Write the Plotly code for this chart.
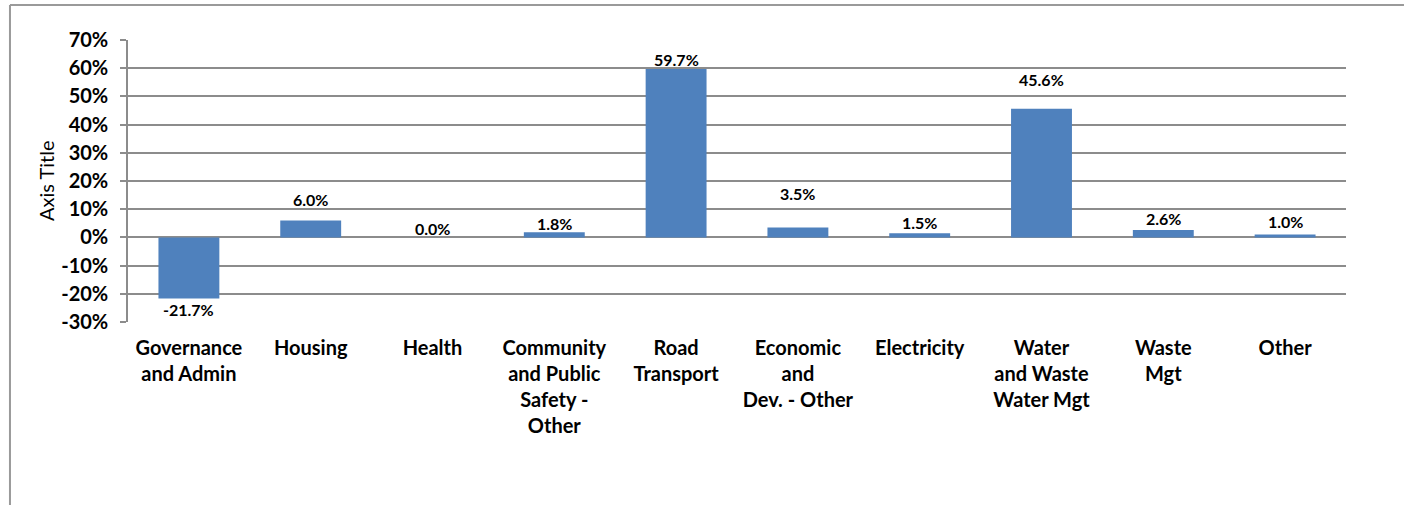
import plotly.graph_objects as go

# Change in capital spend by function
categories = [
    "Governance<br>and Admin",
    "Housing",
    "Health",
    "Community<br>and Public<br>Safety -<br>Other",
    "Road<br>Transport",
    "Economic<br>and<br>Dev. - Other",
    "Electricity",
    "Water<br>and Waste<br>Water Mgt",
    "Waste<br>Mgt",
    "Other",
]
values = [-21.7, 6.0, 0.0, 1.8, 59.7, 3.5, 1.5, 45.6, 2.6, 1.0]

y_tick_vals = [-30, -20, -10, 0, 10, 20, 30, 40, 50, 60, 70]
y_tick_text = ["-30%", "-20%", "-10%", "0%", "10%", "20%", "30%", "40%", "50%", "60%", "70%"]

# vertical pixel offset of each data label from its bar end
label_shift = [-11, 21, 9, 9, 10, 34, 11, 29, 12, 13]

BAR = "#4F81BD"
GRID = "#8C8C8C"
FONT = "Lato"

fig = go.Figure()
fig.add_trace(go.Bar(
    x=categories, y=values,
    marker=dict(color=BAR, line=dict(width=0)),
    hoverinfo="skip",
))

for cat, v, dy in zip(categories, values, label_shift):
    fig.add_annotation(
        x=cat, y=v, xref="x", yref="y",
        text=f"{v:.1f}%", showarrow=False,
        yshift=dy, yanchor="middle",
        font=dict(family=FONT, size=16, color="black", weight="bold"),
    )

fig.add_annotation(
    x=-0.0673, y=0.5, xref="paper", yref="paper",
    text="Axis Title", textangle=-90, showarrow=False,
    xanchor="center", yanchor="middle",
    font=dict(family=FONT, size=20, color="black"),
)

# outer frame of the chart area (top and left edges)
FRAME = dict(color="#9A9A9A", width=2)
fig.add_shape(type="line", xref="paper", yref="paper",
              x0=-0.0969, x1=1.0476, y0=1.124, y1=1.124, line=FRAME, layer="below")
fig.add_shape(type="line", xref="paper", yref="paper",
              x0=-0.0969, x1=-0.0969, y0=-0.7, y1=1.124, line=FRAME, layer="below")

fig.update_layout(
    width=1404, height=505,
    margin=dict(l=128, r=58, t=40, b=183),
    paper_bgcolor="white", plot_bgcolor="white",
    showlegend=False,
    bargap=0.5,
    font=dict(family=FONT, color="black"),
    xaxis=dict(
        type="category",
        showgrid=False, showline=False, zeroline=False,
        ticks="",
        tickfont=dict(family=FONT, size=20, color="black", weight="bold"),
        ticklabelstandoff=12,
    ),
    # horizontal axis line crossing at zero, with boundary tick marks
    xaxis2=dict(
        overlaying="x", anchor="free", position=0.3,
        type="linear", range=[-0.5, 9.5],
        tick0=-0.5, dtick=1,
        showline=True, linecolor=GRID, linewidth=1.5,
        ticks="outside", ticklen=6, tickcolor=GRID, tickwidth=1.5,
        showticklabels=False, showgrid=False, zeroline=False,
    ),
    yaxis=dict(
        range=[-30, 70],
        tickvals=y_tick_vals, ticktext=y_tick_text,
        showgrid=True, gridcolor=GRID, gridwidth=1.5,
        zeroline=False,
        showline=True, linecolor=GRID, linewidth=1.5,
        ticks="outside", ticklen=6, tickcolor=GRID, tickwidth=1.5,
        tickfont=dict(family=FONT, size=20, color="black", weight="bold"),
        ticklabelstandoff=8,
    ),
)

fig.write_html("out.html", config={"displayModeBar": False},
               default_width="1404px", default_height="505px")
